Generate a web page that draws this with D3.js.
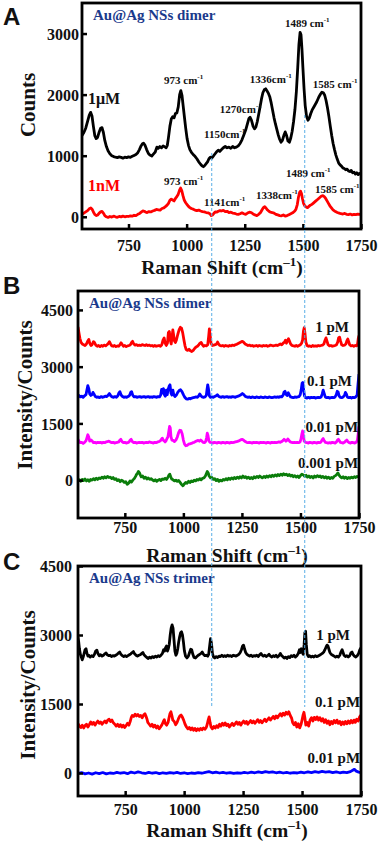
<!DOCTYPE html>
<html lang="en">
  <head>
    <meta charset="utf-8">
    <title>Raman spectra of Au@Ag NSs dimer and trimer</title>
    <script src="https://d3js.org/d3.v7.min.js"></script>
    <style>
      body { margin: 0; background: #fff; }
      text { font-family: "Times New Roman", "Liberation Serif", serif; font-weight: bold; }
      .letter { font-family: Arial, "Liberation Sans", sans-serif; font-size: 24px; }
    </style>
  </head>
  <body>
    <svg id="fig" width="381" height="842"></svg>

    <script type="text/javascript">
      // tick values
      var shiftTicks = [750, 1000, 1250, 1500, 1750];
      var countTicksA = [0, 1000, 2000, 3000];
      var countTicksBC = [0, 1500, 3000, 4500];

      // panel A: Au@Ag NSs dimer, 1 uM and 1 nM  [Raman shift, counts]
      var dimer1uM = [[550,1330],[558,1380],[566,1450],[574,1560],[581,1660],[587,1710],[593,1650],[599,1480],[605,1330],[611,1280],[617,1300],[624,1390],[630,1450],[636,1460],[642,1380],[648,1250],[655,1150],[662,1080],[670,1030],[678,1000],[686,985],[694,975],[702,968],[710,980],[718,972],[726,960],[734,975],[742,968],[750,980],[758,972],[766,990],[774,1005],[782,1020],[790,1050],[797,1100],[804,1160],[810,1195],[815,1205],[821,1170],[828,1100],[835,1040],[842,1010],[850,995],[858,1030],[865,1060],[872,1140],[878,1120],[885,1150],[892,1130],[899,1160],[906,1145],[912,1130],[917,1170],[922,1300],[928,1480],[934,1600],[940,1640],[946,1620],[952,1690],[958,1700],[964,1800],[970,2000],[975,2066],[980,1990],[985,1820],[990,1650],[996,1450],[1002,1280],[1008,1170],[1014,1100],[1020,1060],[1028,1020],[1036,990],[1044,950],[1052,900],[1060,860],[1066,835],[1072,820],[1078,840],[1084,870],[1090,900],[1096,950],[1102,975],[1108,960],[1114,990],[1120,1020],[1128,1060],[1136,1090],[1143,1070],[1150,1100],[1158,1130],[1166,1150],[1174,1130],[1182,1140],[1190,1120],[1198,1150],[1206,1130],[1214,1140],[1222,1160],[1230,1200],[1238,1260],[1246,1340],[1254,1420],[1262,1530],[1268,1610],[1273,1630],[1279,1580],[1286,1480],[1292,1440],[1298,1470],[1304,1560],[1310,1680],[1316,1800],[1322,1930],[1328,2030],[1334,2080],[1340,2095],[1346,2060],[1352,2020],[1358,1960],[1364,1860],[1370,1740],[1376,1620],[1382,1520],[1388,1430],[1394,1340],[1400,1270],[1406,1220],[1412,1250],[1418,1330],[1424,1390],[1430,1330],[1436,1240],[1442,1220],[1448,1290],[1454,1400],[1460,1560],[1466,1760],[1472,2050],[1478,2450],[1483,2820],[1488,3020],[1492,2980],[1496,2750],[1500,2450],[1505,2100],[1510,1820],[1516,1640],[1522,1580],[1528,1620],[1534,1690],[1540,1750],[1546,1790],[1552,1830],[1558,1870],[1564,1920],[1570,1970],[1576,2010],[1582,2040],[1588,2030],[1594,1990],[1600,1900],[1606,1780],[1612,1640],[1618,1480],[1624,1330],[1630,1200],[1636,1100],[1642,1010],[1648,940],[1654,880],[1660,850],[1666,830],[1672,800],[1678,790],[1684,770],[1690,780],[1696,750],[1702,740],[1708,760],[1714,720],[1720,730],[1726,700],[1732,720],[1738,690],[1744,710],[1750,700]];
      var dimer1nM = [[550,40],[558,60],[566,80],[574,100],[581,130],[588,145],[594,120],[600,70],[606,35],[612,20],[618,30],[624,60],[630,80],[636,88],[642,60],[648,20],[655,0],[662,-10],[670,5],[678,-5],[686,10],[694,0],[702,-8],[710,5],[718,-2],[726,10],[734,0],[742,8],[750,5],[758,15],[766,10],[774,25],[782,20],[790,40],[798,55],[806,80],[812,95],[818,90],[824,75],[830,70],[838,85],[846,80],[854,95],[862,105],[870,120],[878,115],[886,110],[894,135],[902,145],[910,170],[916,190],[922,220],[928,270],[934,290],[940,275],[946,260],[952,300],[958,330],[964,370],[970,440],[974,470],[979,430],[984,350],[990,270],[996,230],[1002,200],[1008,170],[1014,150],[1020,135],[1028,125],[1036,110],[1044,100],[1052,110],[1060,95],[1068,85],[1076,80],[1084,70],[1092,65],[1100,50],[1106,20],[1112,30],[1118,60],[1124,80],[1130,75],[1136,90],[1143,100],[1150,95],[1158,105],[1166,85],[1174,90],[1182,70],[1190,75],[1198,60],[1206,55],[1214,45],[1222,40],[1230,50],[1238,65],[1246,50],[1254,40],[1262,60],[1270,75],[1278,70],[1286,45],[1294,30],[1302,20],[1310,40],[1318,70],[1324,110],[1330,150],[1336,165],[1342,140],[1348,110],[1354,90],[1360,75],[1368,70],[1376,60],[1384,40],[1392,30],[1400,20],[1408,15],[1416,30],[1424,10],[1432,20],[1440,35],[1448,50],[1456,65],[1464,90],[1470,120],[1476,200],[1481,320],[1486,400],[1490,420],[1494,380],[1498,300],[1503,220],[1508,180],[1514,160],[1520,150],[1526,170],[1532,190],[1538,200],[1544,220],[1550,240],[1556,260],[1562,280],[1568,300],[1574,320],[1580,340],[1586,345],[1592,330],[1598,300],[1604,260],[1610,220],[1616,180],[1622,150],[1628,120],[1634,100],[1640,85],[1648,70],[1656,60],[1664,50],[1672,45],[1680,55],[1688,40],[1696,35],[1704,45],[1712,30],[1720,40],[1728,35],[1736,45],[1744,40],[1750,45]];

      // panel B: Au@Ag NSs dimer, 1 pM .. 0.001 pM
      var dimer1pM = [[550,4050],[554,3900],[558,3750],[563,3640],[568,3600],[574,3580],[580,3560],[586,3600],[592,3680],[596,3720],[600,3620],[605,3560],[610,3580],[616,3660],[620,3640],[626,3570],[632,3540],[638,3560],[644,3530],[650,3560],[656,3540],[662,3570],[668,3550],[674,3580],[680,3620],[684,3660],[689,3600],[694,3550],[700,3540],[706,3560],[712,3530],[718,3550],[724,3540],[730,3590],[734,3630],[739,3580],[744,3540],[750,3560],[756,3530],[762,3550],[768,3560],[774,3580],[779,3640],[783,3670],[788,3600],[794,3570],[800,3580],[806,3560],[812,3570],[818,3560],[824,3580],[830,3570],[836,3560],[842,3580],[848,3560],[854,3570],[860,3550],[866,3560],[872,3540],[878,3560],[884,3540],[890,3550],[896,3560],[902,3540],[908,3580],[913,3700],[918,3760],[922,3620],[927,3560],[932,3620],[936,3900],[940,3930],[944,3700],[948,3600],[952,3800],[955,3970],[958,3850],[962,3680],[966,3640],[970,3700],[976,3850],[982,3980],[987,4040],[992,4020],[997,3900],[1002,3720],[1007,3550],[1012,3450],[1018,3430],[1024,3460],[1030,3420],[1036,3400],[1042,3430],[1048,3480],[1054,3520],[1060,3540],[1066,3580],[1071,3620],[1076,3640],[1081,3580],[1086,3540],[1092,3560],[1098,3550],[1104,3580],[1108,3800],[1111,4000],[1114,3850],[1118,3620],[1124,3560],[1130,3570],[1136,3580],[1142,3600],[1146,3650],[1150,3600],[1156,3560],[1162,3550],[1168,3560],[1174,3540],[1180,3560],[1186,3550],[1192,3540],[1198,3560],[1204,3550],[1210,3570],[1216,3560],[1222,3580],[1228,3590],[1234,3610],[1240,3630],[1246,3650],[1252,3670],[1258,3640],[1264,3600],[1270,3580],[1276,3560],[1282,3570],[1288,3550],[1294,3560],[1300,3540],[1306,3550],[1312,3560],[1318,3540],[1324,3560],[1330,3550],[1336,3540],[1342,3560],[1348,3550],[1354,3560],[1360,3540],[1366,3550],[1372,3570],[1378,3560],[1384,3550],[1390,3560],[1396,3570],[1402,3560],[1408,3580],[1414,3600],[1420,3580],[1426,3620],[1432,3650],[1436,3700],[1440,3620],[1445,3690],[1449,3740],[1453,3680],[1458,3600],[1464,3560],[1470,3550],[1476,3540],[1482,3560],[1488,3540],[1494,3560],[1500,3580],[1505,3620],[1509,3700],[1513,3950],[1516,4030],[1519,3900],[1523,3650],[1528,3560],[1534,3540],[1540,3550],[1546,3530],[1552,3560],[1558,3540],[1564,3550],[1570,3540],[1576,3560],[1582,3550],[1588,3560],[1594,3570],[1600,3600],[1605,3700],[1609,3760],[1613,3680],[1618,3580],[1624,3550],[1630,3560],[1636,3540],[1642,3550],[1648,3560],[1654,3580],[1659,3650],[1663,3760],[1667,3780],[1671,3680],[1676,3580],[1682,3560],[1688,3570],[1694,3600],[1698,3680],[1702,3730],[1706,3660],[1710,3580],[1716,3550],[1722,3560],[1728,3540],[1734,3560],[1740,3550],[1744,3600],[1747,3750],[1750,3820]];
      var dimer01pM = [[550,2250],[555,2230],[560,2200],[566,2220],[572,2190],[578,2230],[584,2260],[588,2380],[592,2500],[596,2420],[600,2280],[605,2240],[610,2260],[614,2320],[618,2280],[624,2210],[630,2190],[636,2200],[642,2180],[648,2210],[654,2190],[660,2200],[666,2220],[672,2210],[678,2240],[684,2290],[690,2230],[696,2200],[702,2190],[708,2210],[714,2190],[720,2230],[725,2310],[729,2340],[734,2250],[740,2210],[746,2190],[752,2200],[758,2190],[764,2210],[770,2240],[775,2320],[779,2340],[784,2240],[790,2200],[796,2210],[802,2190],[808,2200],[814,2210],[820,2190],[826,2200],[832,2210],[838,2190],[844,2200],[850,2210],[856,2190],[862,2200],[868,2190],[874,2210],[880,2200],[886,2190],[892,2210],[898,2200],[903,2250],[907,2400],[911,2300],[915,2420],[919,2260],[923,2220],[927,2380],[931,2260],[935,2400],[939,2480],[943,2520],[947,2300],[951,2250],[955,2380],[959,2260],[964,2210],[970,2250],[976,2320],[982,2370],[988,2390],[994,2340],[1000,2260],[1006,2190],[1012,2150],[1018,2140],[1024,2160],[1030,2150],[1036,2170],[1042,2180],[1048,2190],[1054,2200],[1060,2190],[1066,2230],[1070,2280],[1075,2230],[1080,2200],[1086,2190],[1092,2200],[1098,2240],[1101,2400],[1104,2520],[1107,2420],[1111,2230],[1116,2190],[1122,2200],[1128,2190],[1134,2210],[1140,2230],[1145,2260],[1150,2220],[1156,2200],[1162,2190],[1168,2210],[1174,2190],[1180,2200],[1186,2210],[1192,2190],[1198,2200],[1204,2190],[1210,2210],[1216,2200],[1222,2190],[1228,2210],[1234,2220],[1240,2240],[1246,2260],[1252,2290],[1258,2260],[1264,2220],[1270,2200],[1276,2190],[1282,2200],[1288,2180],[1294,2200],[1300,2190],[1306,2180],[1312,2200],[1318,2190],[1324,2180],[1330,2200],[1336,2190],[1342,2180],[1348,2200],[1354,2190],[1360,2180],[1366,2200],[1372,2190],[1378,2180],[1384,2190],[1390,2200],[1396,2190],[1402,2200],[1408,2190],[1414,2210],[1420,2200],[1426,2250],[1430,2330],[1434,2350],[1438,2270],[1443,2240],[1448,2310],[1452,2260],[1458,2200],[1464,2190],[1470,2180],[1476,2200],[1482,2190],[1488,2200],[1494,2210],[1499,2260],[1503,2380],[1507,2560],[1510,2580],[1513,2420],[1517,2230],[1522,2180],[1528,2170],[1534,2190],[1540,2170],[1546,2190],[1552,2180],[1558,2190],[1564,2170],[1570,2180],[1576,2190],[1582,2180],[1588,2200],[1593,2280],[1597,2380],[1601,2300],[1606,2200],[1612,2180],[1618,2190],[1624,2170],[1630,2180],[1636,2190],[1642,2180],[1648,2200],[1653,2260],[1657,2350],[1661,2330],[1665,2230],[1670,2190],[1676,2180],[1682,2200],[1688,2240],[1692,2320],[1696,2280],[1700,2200],[1706,2180],[1712,2190],[1718,2170],[1724,2190],[1730,2180],[1736,2200],[1742,2250],[1746,2550],[1750,2800]];
      var dimer001pM = [[550,1080],[555,1020],[560,990],[566,1000],[572,970],[578,1000],[584,1040],[588,1120],[592,1200],[596,1140],[600,1030],[606,1060],[610,1040],[616,990],[622,1000],[628,980],[634,1000],[640,990],[646,1000],[652,980],[658,1000],[664,990],[670,1010],[676,1020],[682,1030],[688,1010],[694,990],[700,1000],[706,980],[712,990],[718,1000],[724,1010],[729,1060],[733,1080],[738,1020],[744,990],[750,1000],[756,980],[762,990],[768,1010],[773,1060],[777,1080],[782,1020],[788,990],[794,1000],[800,980],[806,990],[812,1000],[818,990],[824,1000],[830,980],[836,990],[842,1000],[848,990],[854,1010],[860,1000],[866,990],[872,980],[878,1000],[884,990],[890,1010],[896,1020],[902,1040],[906,1080],[910,1110],[914,1060],[918,1040],[922,1010],[926,1040],[930,1100],[934,1140],[938,1300],[941,1420],[944,1380],[947,1150],[951,1060],[956,1050],[962,1020],[968,1060],[974,1140],[980,1260],[985,1320],[990,1310],[995,1220],[1000,1060],[1005,950],[1010,910],[1016,920],[1022,950],[1028,960],[1034,970],[1040,990],[1046,1000],[1052,1020],[1058,1040],[1063,1050],[1068,1030],[1074,1060],[1078,1040],[1084,1000],[1090,990],[1095,1020],[1099,1120],[1102,1240],[1105,1180],[1109,1040],[1114,1000],[1120,990],[1126,980],[1132,1000],[1138,990],[1144,980],[1150,1000],[1156,990],[1162,980],[1168,1000],[1174,990],[1180,980],[1186,1000],[1192,990],[1198,980],[1204,1000],[1210,990],[1216,1000],[1222,1010],[1228,1020],[1234,1030],[1240,1050],[1246,1070],[1252,1080],[1258,1050],[1264,1020],[1270,1000],[1276,990],[1282,1000],[1288,990],[1294,980],[1300,1000],[1306,990],[1312,1000],[1318,990],[1324,980],[1330,1000],[1336,990],[1342,1000],[1348,990],[1354,980],[1360,1000],[1366,990],[1372,980],[1378,1000],[1384,990],[1390,1000],[1396,990],[1402,1000],[1408,1010],[1414,1000],[1420,1020],[1426,1050],[1430,1080],[1434,1060],[1438,1030],[1442,1050],[1446,1090],[1450,1060],[1456,1010],[1462,1000],[1468,990],[1474,1000],[1480,990],[1486,1000],[1492,990],[1498,1010],[1502,1080],[1506,1220],[1509,1300],[1512,1200],[1516,1030],[1522,1000],[1528,990],[1534,980],[1540,1000],[1546,990],[1552,980],[1558,1000],[1564,990],[1570,980],[1576,1000],[1582,990],[1588,1010],[1593,1070],[1597,1100],[1601,1050],[1606,1000],[1612,990],[1618,980],[1624,990],[1630,980],[1636,1000],[1642,990],[1648,980],[1654,1010],[1658,1060],[1662,1080],[1666,1040],[1670,1000],[1676,990],[1682,980],[1688,1000],[1694,1040],[1698,1060],[1702,1020],[1708,990],[1714,980],[1720,1000],[1726,990],[1732,980],[1738,1000],[1743,1050],[1747,1250],[1750,1420]];
      var dimer0001pM = [[550,-20],[556,10],[562,-30],[568,20],[574,-10],[580,30],[586,-20],[592,10],[598,-30],[604,20],[610,0],[616,40],[622,10],[628,50],[634,20],[640,60],[646,40],[652,80],[658,50],[664,90],[670,60],[676,100],[682,70],[688,80],[694,40],[700,70],[706,20],[712,40],[718,-10],[724,10],[730,-40],[736,0],[742,-20],[748,-60],[754,-40],[760,-110],[766,-80],[772,-20],[778,-50],[784,0],[790,40],[796,100],[800,150],[804,180],[808,230],[812,200],[816,140],[820,90],[826,110],[832,50],[838,80],[844,30],[850,60],[856,20],[862,40],[868,10],[874,-20],[880,10],[886,-30],[892,0],[898,20],[904,-10],[910,30],[916,20],[922,50],[928,20],[934,80],[938,130],[942,160],[946,90],[950,30],[956,10],[962,-20],[968,0],[974,-30],[980,-10],[986,-60],[992,-110],[998,-150],[1004,-100],[1010,-60],[1016,-80],[1022,-30],[1028,-60],[1034,-20],[1040,-40],[1046,0],[1052,-20],[1058,20],[1064,0],[1070,40],[1076,10],[1082,50],[1088,60],[1094,110],[1098,170],[1102,230],[1106,190],[1110,110],[1116,60],[1122,70],[1128,20],[1134,40],[1140,-10],[1146,20],[1152,-30],[1158,0],[1164,-20],[1170,20],[1176,0],[1182,40],[1188,10],[1194,50],[1200,20],[1206,60],[1212,30],[1218,70],[1224,40],[1230,80],[1236,50],[1242,90],[1248,60],[1254,110],[1260,70],[1266,90],[1272,50],[1278,80],[1284,40],[1290,70],[1296,40],[1302,90],[1308,60],[1314,100],[1320,70],[1326,110],[1332,80],[1338,60],[1344,100],[1350,70],[1356,110],[1362,80],[1368,120],[1374,90],[1380,130],[1386,100],[1392,140],[1398,110],[1404,150],[1410,120],[1416,160],[1422,130],[1428,170],[1434,140],[1440,160],[1446,120],[1452,150],[1458,110],[1464,130],[1470,90],[1476,120],[1482,80],[1488,110],[1494,70],[1500,120],[1506,160],[1512,140],[1518,100],[1524,130],[1530,80],[1536,110],[1542,70],[1548,100],[1554,60],[1560,110],[1566,80],[1572,120],[1578,90],[1584,110],[1590,70],[1596,100],[1602,60],[1608,90],[1614,50],[1620,80],[1626,40],[1632,70],[1638,50],[1644,100],[1650,120],[1656,160],[1660,190],[1664,140],[1670,90],[1676,60],[1682,90],[1688,50],[1694,80],[1700,40],[1706,70],[1712,50],[1718,80],[1724,60],[1730,90],[1736,70],[1742,100],[1748,80],[1750,110]];

      // panel C: Au@Ag NSs trimer, 1 pM .. 0.01 pM
      var trimer1pM = [[550,2950],[553,2850],[556,2700],[560,2580],[564,2520],[568,2460],[572,2520],[576,2600],[580,2680],[584,2700],[588,2600],[592,2540],[596,2560],[602,2520],[608,2550],[614,2530],[620,2580],[625,2650],[630,2670],[635,2590],[640,2550],[646,2570],[652,2540],[658,2560],[664,2590],[669,2610],[674,2570],[680,2550],[686,2560],[692,2530],[698,2550],[704,2540],[710,2560],[716,2580],[722,2610],[727,2630],[732,2580],[738,2550],[744,2530],[750,2550],[756,2530],[762,2550],[768,2570],[774,2590],[780,2620],[785,2640],[790,2590],[796,2560],[802,2540],[808,2560],[814,2570],[820,2600],[825,2620],[830,2570],[836,2540],[842,2510],[848,2490],[854,2520],[860,2500],[866,2530],[872,2510],[878,2540],[884,2520],[890,2550],[896,2530],[902,2560],[908,2600],[913,2680],[917,2650],[921,2720],[925,2760],[929,2650],[933,2700],[937,2800],[941,3000],[945,3150],[949,3220],[953,3150],[957,2900],[961,2650],[965,2560],[969,2600],[973,2700],[977,2850],[981,2960],[985,3050],[989,3070],[993,3000],[997,2850],[1001,2660],[1006,2540],[1012,2500],[1018,2540],[1023,2620],[1028,2690],[1032,2680],[1037,2580],[1042,2510],[1048,2500],[1054,2530],[1060,2560],[1066,2580],[1072,2600],[1077,2630],[1082,2580],[1088,2550],[1094,2560],[1100,2540],[1104,2580],[1108,2750],[1112,2920],[1116,2820],[1120,2600],[1125,2520],[1130,2500],[1136,2530],[1142,2510],[1148,2540],[1154,2530],[1160,2560],[1166,2530],[1172,2550],[1178,2530],[1184,2560],[1190,2540],[1196,2550],[1202,2530],[1208,2560],[1214,2550],[1220,2540],[1226,2560],[1232,2580],[1238,2620],[1243,2680],[1248,2760],[1252,2780],[1256,2700],[1261,2620],[1266,2580],[1272,2560],[1278,2540],[1284,2560],[1290,2530],[1296,2550],[1302,2540],[1308,2560],[1314,2530],[1320,2570],[1326,2600],[1331,2560],[1336,2540],[1342,2560],[1348,2530],[1354,2550],[1360,2580],[1366,2540],[1372,2520],[1378,2550],[1384,2530],[1390,2560],[1396,2520],[1402,2550],[1408,2600],[1412,2560],[1418,2530],[1424,2500],[1430,2520],[1436,2490],[1442,2530],[1448,2510],[1454,2550],[1460,2530],[1466,2560],[1472,2520],[1478,2550],[1484,2600],[1489,2680],[1493,2620],[1497,2700],[1501,2620],[1505,2580],[1509,2800],[1512,3050],[1515,3080],[1518,2800],[1522,2580],[1527,2530],[1532,2550],[1538,2520],[1544,2540],[1550,2520],[1556,2550],[1562,2530],[1568,2540],[1574,2560],[1580,2580],[1586,2600],[1592,2630],[1597,2680],[1602,2740],[1606,2780],[1610,2760],[1614,2690],[1618,2620],[1624,2580],[1630,2560],[1636,2540],[1642,2520],[1648,2540],[1654,2520],[1660,2560],[1665,2630],[1670,2680],[1674,2620],[1678,2560],[1684,2530],[1690,2550],[1696,2520],[1702,2550],[1707,2610],[1712,2630],[1716,2580],[1722,2540],[1728,2520],[1734,2550],[1740,2600],[1745,2680],[1750,2720]];
      var trimer01pM = [[550,1070],[556,1020],[562,990],[568,1040],[574,980],[580,1030],[586,1060],[592,1000],[598,1050],[604,1110],[610,1060],[616,1100],[622,1040],[628,1090],[634,1130],[640,1080],[646,1110],[652,1060],[658,1100],[664,1130],[670,1090],[676,1150],[682,1170],[688,1120],[694,1150],[700,1090],[706,1060],[712,1020],[718,1060],[724,1010],[730,1050],[736,1000],[742,1040],[748,990],[754,1030],[760,1080],[766,1040],[772,1130],[776,1210],[780,1250],[786,1230],[792,1280],[798,1240],[804,1270],[810,1230],[816,1250],[822,1200],[828,1260],[834,1290],[838,1240],[842,1180],[846,1100],[852,1060],[858,1020],[864,1060],[870,1000],[876,1040],[882,980],[888,1020],[894,960],[900,1000],[906,1050],[912,1120],[916,1160],[920,1080],[926,1040],[932,1100],[936,1200],[940,1290],[944,1330],[948,1250],[952,1150],[958,1120],[964,1050],[970,1100],[976,1180],[982,1240],[987,1260],[992,1220],[998,1150],[1004,1060],[1010,1000],[1016,960],[1022,990],[1028,940],[1034,980],[1040,930],[1046,970],[1052,920],[1058,960],[1064,930],[1070,970],[1076,940],[1082,980],[1088,950],[1094,990],[1098,1060],[1102,1150],[1106,1220],[1110,1100],[1114,1000],[1120,960],[1126,1010],[1132,980],[1138,1030],[1144,990],[1150,1060],[1156,1020],[1162,1080],[1168,1040],[1174,1090],[1180,1030],[1186,1060],[1192,1000],[1198,1040],[1204,1080],[1210,1030],[1216,1070],[1222,1110],[1228,1060],[1234,1100],[1240,1040],[1246,1090],[1252,1130],[1258,1080],[1264,1120],[1270,1060],[1276,1100],[1282,1140],[1288,1090],[1294,1130],[1300,1080],[1306,1120],[1312,1160],[1318,1100],[1324,1140],[1330,1090],[1336,1130],[1342,1170],[1348,1120],[1354,1160],[1360,1200],[1366,1150],[1372,1190],[1378,1230],[1384,1180],[1390,1240],[1396,1200],[1402,1250],[1408,1290],[1414,1240],[1420,1300],[1426,1260],[1432,1320],[1438,1280],[1444,1330],[1450,1250],[1456,1190],[1460,1100],[1466,1050],[1472,1100],[1478,1000],[1484,1070],[1490,980],[1496,1060],[1500,1150],[1504,1250],[1508,1320],[1512,1200],[1516,1040],[1522,1100],[1528,1020],[1534,1150],[1540,1200],[1546,1130],[1552,1210],[1558,1160],[1564,1220],[1570,1150],[1576,1200],[1582,1130],[1588,1180],[1594,1100],[1600,1160],[1606,1080],[1612,1130],[1618,1050],[1624,1120],[1630,1070],[1636,1140],[1642,1090],[1648,1150],[1654,1080],[1660,1120],[1666,1050],[1672,1110],[1678,1060],[1684,1120],[1690,1070],[1696,1130],[1702,1080],[1708,1140],[1714,1090],[1720,1150],[1726,1100],[1732,1170],[1738,1130],[1744,1220],[1750,1260]];
      var trimer001pM = [[550,-10],[565,10],[580,-20],[595,0],[610,-25],[625,5],[640,-15],[655,10],[670,-20],[685,0],[700,-10],[715,15],[730,-5],[745,10],[760,-15],[775,20],[790,0],[805,25],[820,5],[835,-10],[850,15],[865,-5],[880,10],[895,-15],[910,5],[925,-10],[940,10],[955,-5],[970,15],[985,-10],[1000,5],[1015,-15],[1030,0],[1045,-10],[1060,10],[1075,-5],[1090,15],[1105,30],[1120,5],[1135,20],[1150,0],[1165,15],[1180,-5],[1195,10],[1210,-10],[1225,5],[1240,-5],[1255,15],[1270,0],[1285,20],[1300,5],[1315,25],[1330,10],[1345,30],[1360,15],[1375,25],[1390,5],[1405,20],[1420,0],[1435,15],[1450,-5],[1465,10],[1480,0],[1495,20],[1510,5],[1525,25],[1540,10],[1555,30],[1570,15],[1585,35],[1600,20],[1615,30],[1630,10],[1645,25],[1660,5],[1675,20],[1690,10],[1705,30],[1715,60],[1722,80],[1730,40],[1740,20],[1750,10]];

      // peak labels in panel A: [number, gap before "cm", Raman shift of left edge, counts of baseline]
      var peakLabels1uM = [["973", " ", 903, 2180], ["1336", "", 1272, 2197], ["1489", " ", 1423, 3110], ["1585", " ", 1543, 2115], ["1270", "", 1143, 1705], ["1150", "", 1075, 1295]];
      var peakLabels1nM = [["973", " ", 903, 520], ["1141", "", 1075, 180], ["1338", "", 1298, 290], ["1489", " ", 1427, 644], ["1585", " ", 1552, 382]];

      // dashed guide lines (Raman shift, on panel A scale)
      var guideShifts = [1108, 1508];

      var svg = d3.select("#fig");

      var panels = [
        { letter: "A", letterY: 25, left: 82, right: 361, top: 3, bottom: 229, yDomain: [-200, 3500], yTicks: countTicksA,
          yTitle: "Counts", yTitleX: 28, yTitleY: 105, xLabelY: 22, xTitleY: 274, xTitleX: 222, yPad: 3,
          tag: "Au@Ag NSs dimer",
          series: [ { data: dimer1uM, color: "#000", label: "1\u03bcM", at: [576, 1852], anchor: "start", size: 16 },
                    { data: dimer1nM, color: "#ff0000", label: "1nM", at: [576, 426], anchor: "start", size: 16 } ] },
        { letter: "B", letterY: 294, left: 78, right: 359, top: 291, bottom: 518, yDomain: [-1000, 5000], yTicks: countTicksBC,
          yTitle: "Intensity/Counts", yTitleX: 25, yTitleY: 395, xLabelY: 15, xTitleY: 562, xTitleX: 227, yPad: 5,
          tag: "Au@Ag NSs dimer",
          series: [ { data: dimer1pM, color: "#ff0000", label: "1 pM", at: [1707, 3915], anchor: "end", size: 15 },
                    { data: dimer01pM, color: "#0000ff", label: "0.1 pM", at: [1720, 2487], anchor: "end", size: 15 },
                    { data: dimer001pM, color: "#ff00ff", label: "0.01 pM", at: [1746, 1270], anchor: "end", size: 15 },
                    { data: dimer0001pM, color: "#0a7d0a", label: "0.001 pM", at: [1746, 317], anchor: "end", size: 15 } ] },
        { letter: "C", letterY: 570, left: 78, right: 361, top: 566, bottom: 796, yDomain: [-500, 4500], yTicks: countTicksBC,
          yTitle: "Intensity/Counts", yTitleX: 28, yTitleY: 685, xLabelY: 19, xTitleY: 837, xTitleX: 227, yPad: 6,
          tag: "Au@Ag NSs trimer",
          series: [ { data: trimer1pM, color: "#000", label: "1 pM", at: [1703, 2883], anchor: "end", size: 15 },
                    { data: trimer01pM, color: "#ff0000", label: "0.1 pM", at: [1746, 1442], anchor: "end", size: 15 },
                    { data: trimer001pM, color: "#0000ff", label: "0.01 pM", at: [1746, 218], anchor: "end", size: 15 } ] }
      ];

      var scalesA = null;

      panels.forEach(function(p, i) {
        var x = d3.scaleLinear().domain([550, 1750]).range([p.left, p.right]);
        var y = d3.scaleLinear().domain(p.yDomain).range([p.bottom, p.top]);
        if (i == 0) scalesA = { x: x, y: y };

        var g = svg.append("g");

        g.append("clipPath").attr("id", "clip" + i)
          .append("rect").attr("x", p.left).attr("y", p.top)
          .attr("width", p.right - p.left).attr("height", p.bottom - p.top);

        var line = d3.line().x(function(d) { return x(d[0]); }).y(function(d) { return y(d[1]); });

        g.selectAll("path.spec").data(p.series).enter().append("path")
          .attr("class", "spec")
          .attr("clip-path", "url(#clip" + i + ")")
          .attr("d", function(s) { return line(s.data); })
          .attr("fill", "none")
          .attr("stroke", function(s) { return s.color; })
          .attr("stroke-width", 2.8)
          .attr("stroke-linejoin", "round");

        // concentration labels
        g.selectAll("text.conc").data(p.series).enter().append("text")
          .attr("class", "conc")
          .attr("x", function(s) { return x(s.at[0]); })
          .attr("y", function(s) { return y(s.at[1]); })
          .attr("text-anchor", function(s) { return s.anchor; })
          .attr("font-size", function(s) { return s.size; })
          .attr("fill", function(s) { return s.color == "#000" || p.letter != "A" ? "#111" : s.color; })
          .text(function(s) { return s.label; });

        // axes with inward ticks
        var xAxis = g.append("g").attr("transform", "translate(0," + p.bottom + ")")
          .call(d3.axisBottom(x).tickValues(shiftTicks).tickFormat(d3.format("d"))
            .tickSizeInner(-5).tickSizeOuter(0).tickPadding(0));
        xAxis.selectAll("text").attr("y", p.xLabelY).attr("dy", null);

        var yAxis = g.append("g").attr("transform", "translate(" + p.left + ",0)")
          .call(d3.axisLeft(y).tickValues(p.yTicks).tickFormat(d3.format("d"))
            .tickSizeInner(-5).tickSizeOuter(0).tickPadding(p.yPad));
        yAxis.selectAll("text").attr("dy", "0.35em");

        [xAxis, yAxis].forEach(function(a) {
          a.select(".domain").remove();
          a.selectAll("line").attr("stroke", "#000").attr("stroke-width", 2.5);
          a.selectAll("text").attr("font-size", 16).attr("font-family", null).attr("fill", "#111");
        });

        g.append("rect")
          .attr("x", p.left).attr("y", p.top)
          .attr("width", p.right - p.left).attr("height", p.bottom - p.top)
          .attr("fill", "none").attr("stroke", "#000").attr("stroke-width", 2.8);

        g.append("text").attr("x", p.left + 11).attr("y", p.top + 17)
          .attr("font-size", 15).attr("fill", "#1a3a8c").text(p.tag);

        var xt = g.append("text").attr("x", p.xTitleX).attr("y", p.xTitleY)
          .attr("text-anchor", "middle").attr("font-size", 19.5).attr("fill", "#111");
        xt.append("tspan").text("Raman Shift (cm");
        xt.append("tspan").attr("font-size", 13).attr("dy", -8).text("\u20131");
        xt.append("tspan").attr("dy", 8).text(")");

        g.append("text")
          .attr("transform", "translate(" + p.yTitleX + "," + p.yTitleY + ") rotate(-90)")
          .attr("text-anchor", "middle").attr("dy", "0.35em")
          .attr("font-size", 21).attr("fill", "#111").text(p.yTitle);

        svg.append("text").attr("class", "letter").attr("x", 3).attr("y", p.letterY)
          .attr("fill", "#111").text(p.letter);
      });

      // peak position labels on panel A
      function drawPeakLabels(labels, color) {
        labels.forEach(function(l) {
          var t = svg.append("text").attr("x", scalesA.x(l[2])).attr("y", scalesA.y(l[3]))
            .attr("font-size", 11).attr("fill", color);
          t.append("tspan").text(l[0] + l[1] + "cm");
          t.append("tspan").attr("font-size", 7).attr("dy", -5).text("-1");
        });
      }
      drawPeakLabels(peakLabels1uM, "#111");
      drawPeakLabels(peakLabels1nM, "#111");

      // blue dashed guides running through all panels
      svg.selectAll("line.guide").data(guideShifts).enter().append("line")
        .attr("class", "guide")
        .attr("x1", function(d) { return scalesA.x(d); })
        .attr("x2", function(d) { return scalesA.x(d); })
        .attr("y1", function(d, i) { return i == 0 ? 153 : 115; })
        .attr("y2", 707)
        .attr("stroke", "#5aaee6").attr("stroke-width", 1)
        .attr("stroke-dasharray", "3,2");
    </script>
  </body>
</html>
